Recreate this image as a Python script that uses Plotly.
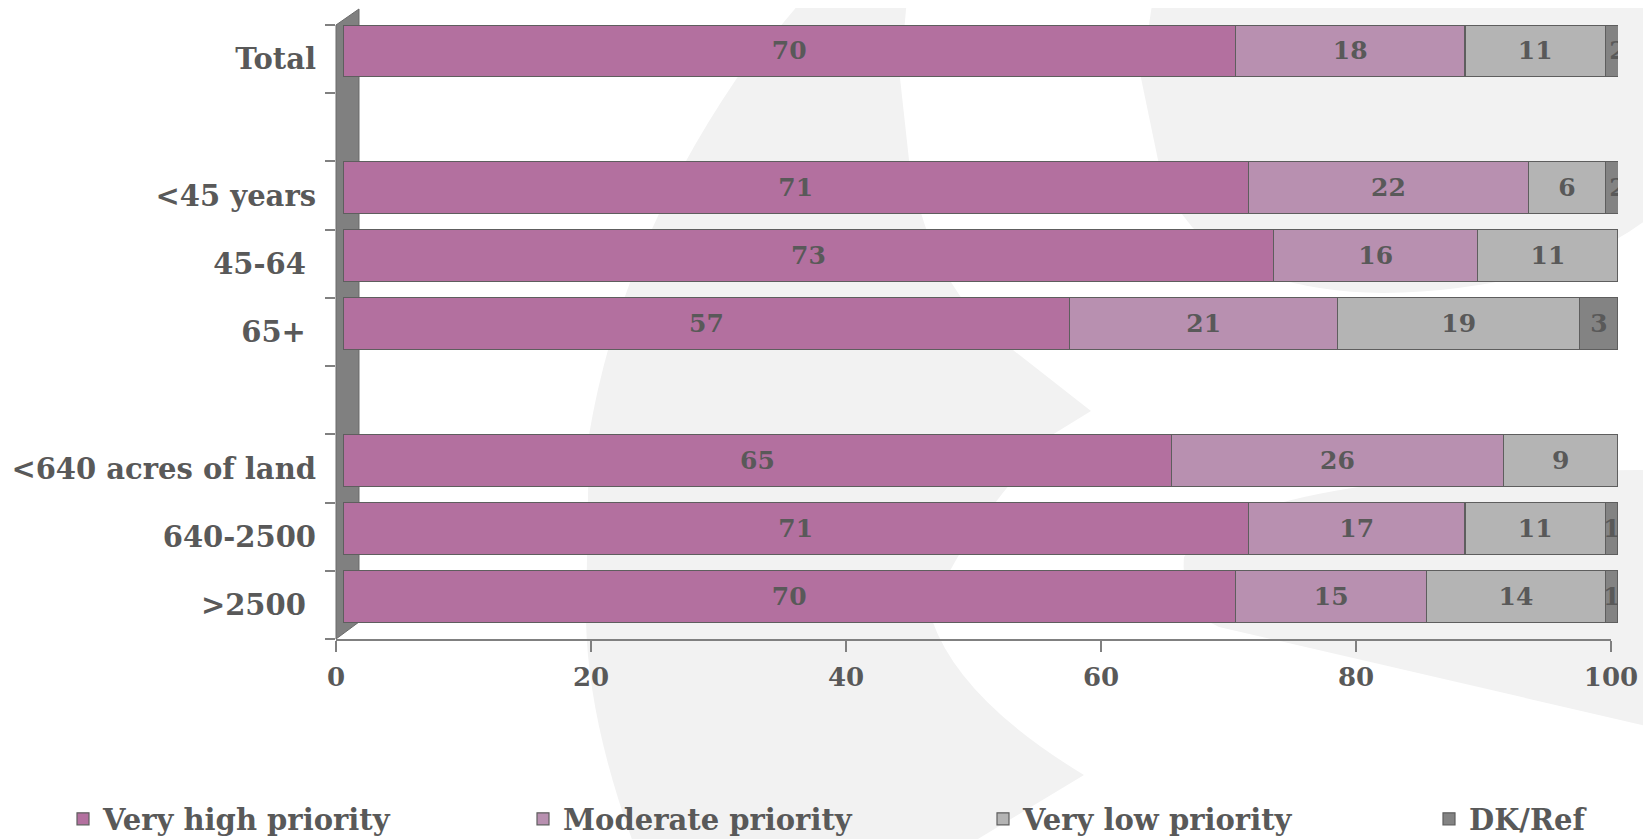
import plotly.graph_objects as go

# ---------------- data ----------------
rows = ["Total", None, "<45 years", "45-64\u00a0", "65+\u00a0", None,
        "<640 acres of land", "640-2500", ">2500\u00a0"]
categories = [r for r in rows if r is not None]

series_names = ["Very high priority", "Moderate priority", "Very low priority", "DK/Ref"]
very_high = [70, 71, 73, 57, 65, 71, 70]
moderate = [18, 22, 16, 21, 26, 17, 15]
very_low = [11, 6, 11, 19, 9, 11, 14]
dk_ref = [2, 2, None, 3, 1, 1, 1]

x_ticks = [0, 20, 40, 60, 80, 100]

# ---------------- styling ----------------
colors = ["#B3709F", "#B890B0", "#B4B4B4", "#838383"]
FONT = "DejaVu Serif"
TXT = "#595959"

OFF = 8  # default page margin of the html body
W, H = 1651 - OFF, 839 - OFF
# plot area on screen: x 336..1618, y 25..639
L, T = 336 - OFF, 25 - OFF
R, B = W - (1618 - OFF), H - (639 - OFF)
PW, PH = W - L - R, H - T - B
DEPTH = 7  # 3D depth offset of the bars (px)

ypos = [i for i, r in enumerate(rows) if r is not None]


def px(x, y):
    """screen pixel -> paper coords"""
    return (x - OFF - L) / PW, (T + PH - (y - OFF)) / PH


def path(cmds):
    out = []
    for c in cmds:
        if isinstance(c, str):
            out.append(c)
        else:
            a, b = px(*c)
            out.append(f"{a:.5f},{b:.5f}")
    return " ".join(out)


fig = go.Figure()
# empty trace so the front (tick) axis is drawn
fig.add_trace(go.Scatter(x=[], y=[], xaxis="x", yaxis="y", showlegend=False,
                         hoverinfo="skip"))
for name, vals, col in zip(series_names, [very_high, moderate, very_low, dk_ref], colors):
    fig.add_trace(go.Bar(
        name=name, y=ypos, x=vals, orientation="h", xaxis="x2", yaxis="y",
        width=0.76, offset=-0.5,
        legend="legend2" if name == "DK/Ref" else "legend",
        marker=dict(color=col, line=dict(color="#5E5E5E", width=1.2)),
        text=[("" if v is None else str(v)) for v in vals],
        textposition="inside", insidetextanchor="middle", constraintext="none",
        textfont=dict(family=FONT, size=25, color=TXT, weight="bold"),
        hoverinfo="skip",
    ))

bg = "#F2F2F2"
shapes = [
    dict(type="path", xref="paper", yref="paper", layer="below",
         fillcolor=bg, line=dict(width=0),
         path=path(["M", (804, -2), "L", (907, -2), "L", (900, 78), "L", (909, 160),
                    "Q", (930, 290), (1013, 350), "L", (1091, 411), "L", (1052, 435),
                    "Q", (940, 560), (932, 620), "Q", (960, 700), (1084, 775),
                    "L", (968, 845), "L", (634, 845), "Q", (588, 720), (586, 620),
                    "L", (589, 435), "Q", (620, 250), (737, 78), "Z"])),
    dict(type="path", xref="paper", yref="paper", layer="below",
         fillcolor=bg, line=dict(width=0),
         path=path(["M", (1153, -2), "L", (1141, 78), "L", (1158, 160),
                    "Q", (1190, 290), (1383, 293), "Q", (1560, 290), (1655, 213),
                    "L", (1655, -2), "Z"])),
    dict(type="path", xref="paper", yref="paper", layer="below",
         fillcolor=bg, line=dict(width=0),
         path=path(["M", (1655, 470), "Q", (1240, 470), (1184, 557),
                    "Q", (1180, 610), (1219, 627), "L", (1655, 728), "Z"])),
    dict(type="path", xref="paper", yref="paper", layer="below",
         fillcolor="#808080", line=dict(color="#6A6A6A", width=1),
         path=path(["M", (336, 25), "L", (359, 9), "L", (359, 622), "L", (336, 639), "Z"])),
]

legend_font = dict(family=FONT, size=29, color=TXT, weight="bold")
legend_y = px(0, 819)[1]

fig.update_layout(
    width=W, height=H,
    margin=dict(l=L, r=R, t=T, b=B, autoexpand=False),
    paper_bgcolor="white", plot_bgcolor="rgba(0,0,0,0)",
    barmode="stack",
    shapes=shapes,
    showlegend=True,
    legend=dict(orientation="h", x=px(63, 0)[0], y=legend_y,
                xanchor="left", yanchor="middle",
                entrywidth=415, entrywidthmode="pixels",
                font=legend_font, traceorder="normal", bgcolor="rgba(0,0,0,0)"),
    legend2=dict(orientation="h", x=px(1429, 0)[0], y=legend_y,
                 xanchor="left", yanchor="middle",
                 font=legend_font, bgcolor="rgba(0,0,0,0)"),
    xaxis=dict(domain=[0, (PW - DEPTH) / PW], anchor="y",
               range=[0, 100], tickvals=x_ticks, ticks="outside", ticklen=11,
               tickcolor="#808080", tickwidth=1.5, showline=True, linecolor="#808080",
               linewidth=2, showgrid=False, zeroline=False, ticklabelstandoff=3,
               tickfont=dict(family=FONT, size=26, color=TXT, weight="bold"),
               fixedrange=True),
    xaxis2=dict(domain=[DEPTH / PW, 1], anchor="y", range=[0, 100], visible=False,
                showgrid=False, zeroline=False, fixedrange=True),
    yaxis=dict(anchor="x", range=[len(rows) - 0.5, -0.5], tickvals=ypos,
               ticktext=categories,
               ticks="", showgrid=False, zeroline=False, showline=False,
               ticklabelstandoff=19,
               minor=dict(tickvals=[i - 0.5 for i in range(len(rows) + 1)],
                          ticks="outside", ticklen=10, tickcolor="#808080", tickwidth=1.5),
               tickfont=dict(family=FONT, size=29, color=TXT, weight="bold"),
               fixedrange=True),
)

fig.write_html("out.html")
